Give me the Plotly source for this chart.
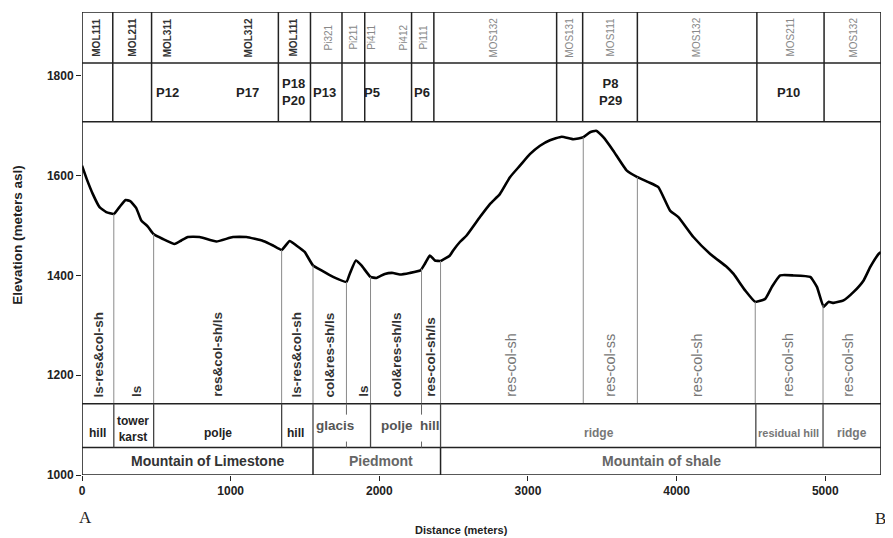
import numpy as np
import plotly.graph_objects as go

# ---------------- data ----------------
profile_x = [0, 32, 73, 118, 163, 214, 252, 293, 324, 365, 399, 443, 481, 544, 623, 668, 712, 791,
             904, 1015, 1106, 1218, 1285, 1343, 1397, 1442, 1498, 1554, 1611, 1689, 1779, 1801,
             1842, 1880, 1941, 1981, 2037, 2093, 2138, 2205, 2277, 2306, 2340, 2374, 2412, 2475,
             2497, 2542, 2587, 2677, 2744, 2811, 2879, 2946, 3013, 3081, 3148, 3227, 3305, 3372,
             3418, 3458, 3507, 3574, 3665, 3736, 3810, 3877, 3956, 4012, 4113, 4226, 4338, 4383,
             4461, 4529, 4596, 4641, 4697, 4787, 4899, 4944, 4989, 5022, 5056, 5123, 5191, 5258,
             5303, 5359, 5375]
profile_elev = [1620, 1593, 1563, 1537, 1527, 1523, 1537, 1551, 1549, 1535, 1510, 1498, 1483, 1473,
                1463, 1470, 1477, 1477, 1468, 1477, 1477, 1469, 1460, 1451, 1469, 1460, 1447, 1420,
                1410, 1397, 1387, 1403, 1430, 1420, 1397, 1395, 1403, 1405, 1402, 1405, 1410, 1423,
                1440, 1430, 1429, 1440, 1450, 1467, 1480, 1517, 1543, 1563, 1597, 1620, 1643, 1660,
                1671, 1678, 1673, 1677, 1687, 1690, 1677, 1650, 1610, 1597, 1587, 1577, 1530, 1517,
                1477, 1443, 1417, 1403, 1370, 1347, 1353, 1377, 1400, 1400, 1397, 1377, 1337, 1347,
                1345, 1350, 1367, 1390, 1417, 1443, 1447]

header_bounds = [207, 468, 1321, 1537, 1749, 1902, 2217, 2367, 3193, 3368, 3736, 4540, 4992]
header_codes = ["MOL111", "MOL211", "MOL311", "MOL312", "MOL111", "Pi321", "Pi211", "Pi411",
                "Pi412", "Pi111", "MOS132", "MOS131", "MOS111", "MOS132", "MOS211", "MOS132"]
header_code_x = [96, 338, 578, 1123, 1420, 1655, 1824, 1947, 2160, 2295, 2766, 3278, 3552, 4136,
                 4764, 5187]
profile_names = ["P12", "P17", "P18<br>P20", "P13", "P5", "P6", "P8<br>P29", "P10"]
profile_name_x = [578, 1110, 1420, 1633, 1954, 2284, 3552, 4753]

litho_bounds = [214, 482, 1343, 1554, 1779, 1941, 2284, 2412, 3372, 3736, 4529, 4985]
litho_labels = ["ls-res&col-sh", "ls", "res&col-sh/ls", "ls-res&col-sh", "col&res-sh/ls", "ls",
                "col&res-sh/ls", "res-col-sh/ls", "res-col-sh", "res-col-ss", "res-col-sh",
                "res-col-sh", "res-col-sh"]
litho_x = [110, 365, 915, 1442, 1667, 1898, 2116, 2345, 2890, 3552, 4136, 4753, 5157]

landform_bounds = [214, 482, 1343, 1554, 1941, 2412, 4533, 4985]
landform_stubs = [1779, 2284]
landform_labels = ["hill", "tower<br>karst", "polje", "hill", "glacis", "polje", "hill", "ridge",
                   "residual hill", "ridge"]
landform_x = [106, 342, 915, 1438, 1700, 2122, 2340, 3478, 4753, 5182]

unit_bounds = [1554, 2412]
unit_labels = ["Mountain of Limestone", "Piedmont", "Mountain of shale"]
unit_x = [847, 2010, 3900]

# ---------------- layout constants ----------------
X0, X1 = 0, 5375
Y0, Y1 = 1000, 1928
HDR_MID, HDR_BOT = 1826, 1708
LITHO_BOT, LAND_BOT = 1143, 1055
FONT = "Liberation Sans, Arial, sans-serif"

fig = go.Figure()
fig.add_trace(go.Scatter(x=profile_x, y=profile_elev, mode="lines",
                         line=dict(color="black", width=2.6, shape="spline", smoothing=0.4),
                         hoverinfo="skip", showlegend=False))

shapes = []
def hline(y, w=1.5, c="#222"):
    shapes.append(dict(type="line", xref="x", yref="y", x0=X0, x1=X1, y0=y, y1=y,
                       line=dict(color=c, width=w)))
def vline(x, ya, yb, w=1.5, c="#222"):
    shapes.append(dict(type="line", xref="x", yref="y", x0=x, x1=x, y0=ya, y1=yb,
                       line=dict(color=c, width=w)))

# outer box
shapes.append(dict(type="rect", xref="x", yref="y", x0=X0, x1=X1, y0=Y0, y1=Y1,
                   line=dict(color="#222", width=1.6)))
# header
hline(HDR_MID); hline(HDR_BOT)
for b in header_bounds:
    vline(b, HDR_BOT, Y1)
# lithology boundaries (curve down to row line)
for b in litho_bounds:
    vline(b, float(np.interp(b, profile_x, profile_elev)), LITHO_BOT, w=1, c="#8a8a8a")
hline(LITHO_BOT); hline(LAND_BOT)
for b in landform_bounds:
    vline(b, LAND_BOT, LITHO_BOT, w=1.3, c="#444")
for b in landform_stubs:
    vline(b, LITHO_BOT - 22, LITHO_BOT, w=1, c="#666")
    vline(b, LAND_BOT, LAND_BOT + 12, w=1, c="#666")
for b in unit_bounds:
    vline(b, Y0, LAND_BOT, w=1.5, c="#222")

ann = []
for i, (t, x) in enumerate(zip(header_codes, header_code_x)):
    dark = t.startswith("MOL")
    ann.append(dict(x=x, y=1877, xref="x", yref="y", text=t, showarrow=False, textangle=-90,
                    font=dict(family=FONT, size=10, color="#333" if dark else "#888",
                              weight="bold" if dark else "normal")))
for t, x in zip(profile_names, profile_name_x):
    ann.append(dict(x=x, y=1767, xref="x", yref="y", text="<b>%s</b>" % t, showarrow=False,
                    font=dict(family=FONT, size=13, color="#222")))
for i, (t, x) in enumerate(zip(litho_labels, litho_x)):
    left = x < 2412
    ann.append(dict(x=x, y=1152, xref="x", yref="y", text=t, showarrow=False, textangle=-90,
                    yanchor="bottom",
                    font=dict(family=FONT, size=13.5 if left else 14.5,
                              color="#333" if left else "#777",
                              weight="bold" if left else "normal")))
for t, x in zip(landform_labels, landform_x):
    y = 1100 if 1554 < x < 2412 else 1084
    if "tower" in t:
        y = 1092
    dark = x < 1554
    if x < 1554:
        size = 12
    elif x < 2412:
        size = 13.5
    elif "residual" in t:
        size = 11
    else:
        size = 12
    ann.append(dict(x=x, y=y, xref="x", yref="y", text=t, showarrow=False,
                    font=dict(family=FONT, size=size,
                              color="#222" if dark else ("#555" if x < 2412 else "#777"),
                              weight="bold")))
for t, x in zip(unit_labels, unit_x):
    ann.append(dict(x=x, y=1028, xref="x", yref="y", text=t, showarrow=False,
                    font=dict(family=FONT, size=14, color="#333" if x < 1554 else "#666",
                              weight="bold")))

# axis titles and end markers (paper coords)
ann.append(dict(x=-0.0807, y=0.518, xref="paper", yref="paper", text="Elevation (meters asl)",
                showarrow=False, textangle=-90, xanchor="center", yanchor="middle",
                font=dict(family=FONT, size=13.5, color="#222", weight="bold")))
ann.append(dict(x=0.475, y=-0.1187, xref="paper", yref="paper", text="Distance (meters)",
                showarrow=False, xanchor="center", yanchor="middle",
                font=dict(family=FONT, size=11, color="#222", weight="bold")))
ann.append(dict(x=0.0044, y=-0.0928, xref="paper", yref="paper", text="A", showarrow=False,
                xanchor="center", yanchor="middle",
                font=dict(family="Liberation Serif, Times New Roman, serif", size=17, color="#222")))
ann.append(dict(x=0.9995, y=-0.093, xref="paper", yref="paper", text="B", showarrow=False,
                xanchor="center", yanchor="middle",
                font=dict(family="Liberation Serif, Times New Roman, serif", size=17, color="#222")))

# page body has an 8px margin, so margins are shifted to place the plot area correctly
fig.update_layout(
    width=893, height=538,
    margin=dict(l=74, r=20, t=4, b=71),
    plot_bgcolor="white", paper_bgcolor="white",
    shapes=shapes, annotations=ann,
    xaxis=dict(range=[X0, X1], tickvals=[0, 1000, 2000, 3000, 4000, 5000],
               ticks="outside", ticklen=5, tickcolor="#222", showgrid=False, zeroline=False,
               showline=False, tickfont=dict(family=FONT, size=12, color="#222", weight="bold")),
    yaxis=dict(range=[Y0, Y1], tickvals=[1000, 1200, 1400, 1600, 1800],
               ticks="outside", ticklen=5, tickcolor="#222", showgrid=False, zeroline=False,
               showline=False, tickfont=dict(family=FONT, size=12, color="#222", weight="bold")),
)

fig.write_html("out.html")
